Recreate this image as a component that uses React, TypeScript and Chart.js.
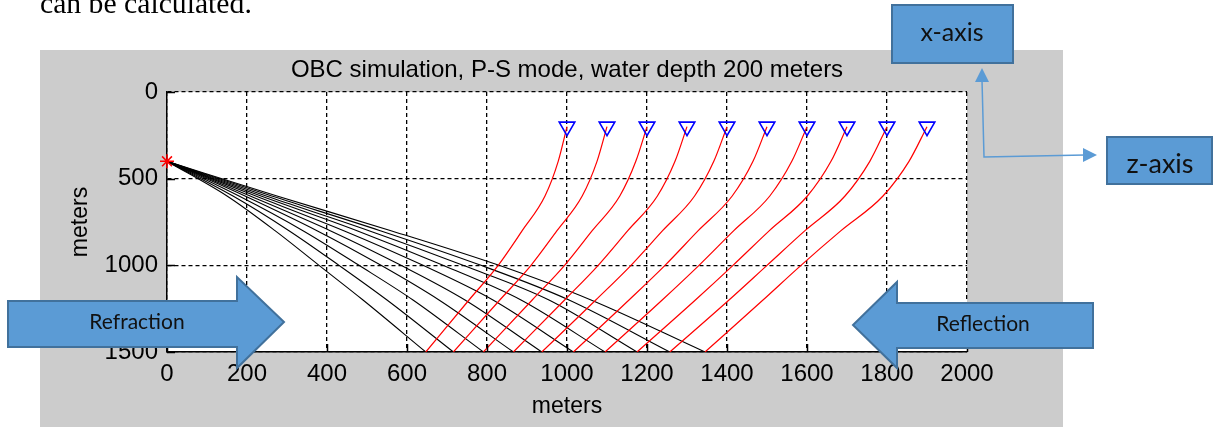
import React, { useEffect, useRef } from "react";
import { Chart, registerables } from "chart.js";

Chart.register(...registerables);

const W = 1218;
const H = 427;

// ---- text ----
const chartTitle = "OBC simulation, P-S mode, water depth 200 meters";
const xAxisTitle = "meters";
const zAxisTitle = "meters";
const docText = "can be calculated.";
const refractionLabel = "Refraction";
const reflectionLabel = "Reflection";
const xBoxLabel = "x-axis";
const zBoxLabel = "z-axis";

// ---- axes ----
const xTicks = [0, 200, 400, 600, 800, 1000, 1200, 1400, 1600, 1800, 2000];
const zTicks = [0, 500, 1000, 1500];

// ---- source and receivers ----
const sourceX = [0];
const sourceZ = [400];
const receiverX = [1000, 1100, 1200, 1300, 1400, 1500, 1600, 1700, 1800, 1900];
const receiverZ = [200, 200, 200, 200, 200, 200, 200, 200, 200, 200];

// ---- P (down-going) rays: x at each depth ----
const pRayDepths = [400, 600, 800, 1000, 1200, 1500];
const pRayX = [
  [0, 150, 270, 380, 490, 647],
  [0, 165, 305, 430, 550, 716],
  [0, 180, 340, 480, 615, 791],
  [0, 195, 375, 535, 680, 866],
  [0, 208, 408, 585, 745, 937],
  [0, 222, 442, 640, 815, 1016],
  [0, 235, 475, 690, 885, 1095],
  [0, 248, 505, 740, 955, 1175],
  [0, 262, 533, 785, 1005, 1257],
  [0, 275, 560, 830, 1060, 1345],
];

// ---- S (up-going) rays: x at each depth ----
const sRayDepths = [1500, 1200, 1000, 800, 600, 400, 200];
const sRayX = [
  [647, 755, 828, 888, 945, 978, 1000],
  [716, 832, 910, 975, 1038, 1075, 1100],
  [791, 913, 994, 1063, 1132, 1172, 1200],
  [866, 994, 1078, 1152, 1226, 1270, 1300],
  [937, 1072, 1160, 1239, 1319, 1367, 1400],
  [1016, 1155, 1245, 1328, 1413, 1465, 1500],
  [1095, 1238, 1330, 1417, 1507, 1562, 1600],
  [1175, 1321, 1415, 1506, 1601, 1660, 1700],
  [1257, 1405, 1500, 1595, 1695, 1757, 1800],
  [1345, 1490, 1585, 1685, 1790, 1855, 1900],
];

const FONT = '"Liberation Sans", Arial, Helvetica, sans-serif';
const ANNOT_FONT = 'Lato, "Open Sans", sans-serif';

const bgPlugin = {
  id: "bgPlugin",
  beforeDraw(chart: any) {
    const { ctx, chartArea } = chart;
    ctx.save();
    ctx.fillStyle = "#ffffff";
    ctx.fillRect(0, 0, W, H);
    ctx.fillStyle = "#cccccc";
    ctx.fillRect(40, 50, 1023, H - 50);
    ctx.fillStyle = "#ffffff";
    ctx.fillRect(chartArea.left, chartArea.top, chartArea.right - chartArea.left, chartArea.bottom - chartArea.top);
    ctx.restore();
  },
};

function polygon(ctx: CanvasRenderingContext2D, pts: number[][], fill: string, stroke: string, lw: number) {
  ctx.beginPath();
  ctx.moveTo(pts[0][0], pts[0][1]);
  for (let i = 1; i < pts.length; i++) ctx.lineTo(pts[i][0], pts[i][1]);
  ctx.closePath();
  ctx.fillStyle = fill;
  ctx.fill();
  if (stroke) {
    ctx.lineWidth = lw;
    ctx.strokeStyle = stroke;
    ctx.stroke();
  }
}

const annotPlugin = {
  id: "annotPlugin",
  afterDraw(chart: any) {
    const { ctx, chartArea } = chart;
    const xs = chart.scales.x;
    const ys = chart.scales.y;
    ctx.save();
    // inward ticks (MATLAB style)
    ctx.setLineDash([]);
    ctx.strokeStyle = "#000";
    ctx.lineWidth = 1.5;
    ctx.beginPath();
    for (const v of xTicks) {
      const px = Math.round(xs.getPixelForValue(v)) + 0.5;
      ctx.moveTo(px, chartArea.bottom);
      ctx.lineTo(px, chartArea.bottom - 8);
    }
    for (const v of zTicks) {
      const py = Math.round(ys.getPixelForValue(v)) + 0.5;
      ctx.moveTo(chartArea.left, py);
      ctx.lineTo(chartArea.left + 8, py);
    }
    ctx.stroke();

    const fill = "#5b9bd5";
    const edge = "#41719c";
    // Refraction arrow (pointing right)
    polygon(ctx, [[8, 301], [237, 301], [237, 277], [284, 322], [237, 368], [237, 347], [8, 347]], fill, edge, 2);
    // Reflection arrow (pointing left)
    polygon(ctx, [[1093, 303], [897, 303], [897, 282], [853, 325], [897, 368], [897, 348], [1093, 348]], fill, edge, 2);
    // boxes
    polygon(ctx, [[892, 5], [1013, 5], [1013, 63], [892, 63]], fill, edge, 2);
    polygon(ctx, [[1107, 137], [1212, 137], [1212, 184], [1107, 184]], fill, edge, 2);

    // connector
    ctx.strokeStyle = fill;
    ctx.lineWidth = 1.5;
    ctx.beginPath();
    ctx.moveTo(982, 80);
    ctx.lineTo(984, 157);
    ctx.lineTo(1085, 155);
    ctx.stroke();
    polygon(ctx, [[982, 68], [975, 82], [989, 82]], fill, "", 0);
    polygon(ctx, [[1097, 155], [1083, 148], [1083, 162]], fill, "", 0);

    // texts
    ctx.fillStyle = "#111";
    ctx.textAlign = "center";
    ctx.textBaseline = "middle";
    ctx.font = `21px ${ANNOT_FONT}`;
    ctx.fillText(refractionLabel, 137, 322);
    ctx.fillText(reflectionLabel, 983, 324);
    ctx.font = `25px ${ANNOT_FONT}`;
    ctx.fillText(xBoxLabel, 952, 33);
    ctx.save();
    ctx.beginPath();
    ctx.rect(1108, 138, 103, 37);
    ctx.clip();
    ctx.font = `27px ${ANNOT_FONT}`;
    ctx.textBaseline = "alphabetic";
    ctx.fillText(zBoxLabel, 1160, 173);
    ctx.restore();
    ctx.restore();
  },
};

export default function App() {
  const ref = useRef<HTMLCanvasElement>(null);

  useEffect(() => {
    const canvas = ref.current;
    if (!canvas) return;

    const datasets: any[] = [];
    datasets.push({
      label: "source",
      data: sourceX.map((x, i) => ({ x, y: sourceZ[i] })),
      showLine: false,
      pointStyle: "star",
      pointRadius: 7,
      pointBorderColor: "#ff0000",
      pointBackgroundColor: "#ff0000",
      pointBorderWidth: 1.5,
      clip: false,
    });
    datasets.push({
      label: "receivers",
      data: receiverX.map((x, i) => ({ x, y: receiverZ[i] })),
      showLine: false,
      pointStyle: "triangle",
      pointRotation: 180,
      pointRadius: 9,
      pointBorderColor: "#0000ff",
      pointBackgroundColor: "rgba(0,0,0,0)",
      pointBorderWidth: 1.6,
      clip: false,
    });
    sRayX.forEach((xsArr, i) => {
      datasets.push({
        label: `S ray ${i + 1}`,
        data: xsArr.map((x, j) => ({ x, y: sRayDepths[j] })),
        showLine: true,
        borderColor: "#ff0000",
        borderWidth: 1.2,
        pointRadius: 0,
        cubicInterpolationMode: "monotone",
      });
    });
    pRayX.forEach((xsArr, i) => {
      datasets.push({
        label: `P ray ${i + 1}`,
        data: xsArr.map((x, j) => ({ x, y: pRayDepths[j] })),
        showLine: true,
        borderColor: "#000000",
        borderWidth: 1.1,
        pointRadius: 0,
        cubicInterpolationMode: "monotone",
      });
    });

    const tickFont = { family: FONT, size: 24 };

    const chart = new Chart(canvas, {
      type: "scatter",
      data: { datasets },
      options: {
        responsive: false,
        animation: false,
        devicePixelRatio: 1,
        events: [],
        layout: { padding: { left: 40, top: 50, right: 251, bottom: 0 } },
        plugins: {
          legend: { display: false },
          tooltip: { enabled: false },
          title: {
            display: true,
            text: chartTitle,
            fullSize: false,
            color: "#000",
            font: { family: FONT, size: 24, weight: "normal" },
            padding: { top: 5.5, bottom: 7.7 },
          },
        },
        scales: {
          x: {
            type: "linear",
            position: "bottom",
            min: 0,
            max: 2000,
            afterBuildTicks: (s: any) => {
              s.ticks = xTicks.map((v) => ({ value: v }));
            },
            afterFit: (s: any) => {
              s.height = 75;
            },
            ticks: {
              autoSkip: false,
              maxRotation: 0,
              color: "#000",
              font: tickFont,
              padding: 8,
              callback: (v: any) => String(v),
            },
            grid: { color: "#000", lineWidth: 1.3, drawTicks: false },
            border: { display: true, color: "#000", width: 1.5, dash: [4, 3] },
            title: {
              display: true,
              text: xAxisTitle,
              color: "#000",
              font: { family: FONT, size: 23 },
              padding: { top: 0, bottom: 7 },
            },
          },
          y: {
            type: "linear",
            position: "left",
            reverse: true,
            min: 0,
            max: 1500,
            afterBuildTicks: (s: any) => {
              s.ticks = zTicks.map((v) => ({ value: v }));
            },
            afterFit: (s: any) => {
              s.width = 127;
            },
            ticks: {
              autoSkip: false,
              color: "#000",
              font: tickFont,
              padding: 9,
              callback: (v: any) => String(v),
            },
            grid: { color: "#000", lineWidth: 1.3, drawTicks: false },
            border: { display: true, color: "#000", width: 1.5, dash: [4, 3] },
            title: {
              display: true,
              text: zAxisTitle,
              color: "#000",
              font: { family: FONT, size: 23 },
              padding: { top: 27, bottom: 0 },
            },
          },
        },
      } as any,
      plugins: [bgPlugin, annotPlugin],
    });

    return () => chart.destroy();
  }, []);

  return (
    <div
      style={{
        position: "absolute",
        left: 0,
        top: 0,
        width: W,
        height: H,
        overflow: "hidden",
        background: "#fff",
      }}
    >
      <canvas ref={ref} width={W} height={H} style={{ display: "block", width: W, height: H }} />
      <div
        style={{
          position: "absolute",
          left: 40,
          top: -13,
          fontFamily: '"Liberation Serif", "Times New Roman", serif',
          fontSize: "29.7px",
          lineHeight: "normal",
          whiteSpace: "nowrap",
          color: "#000",
        }}
      >
        {docText}
      </div>
    </div>
  );
}
